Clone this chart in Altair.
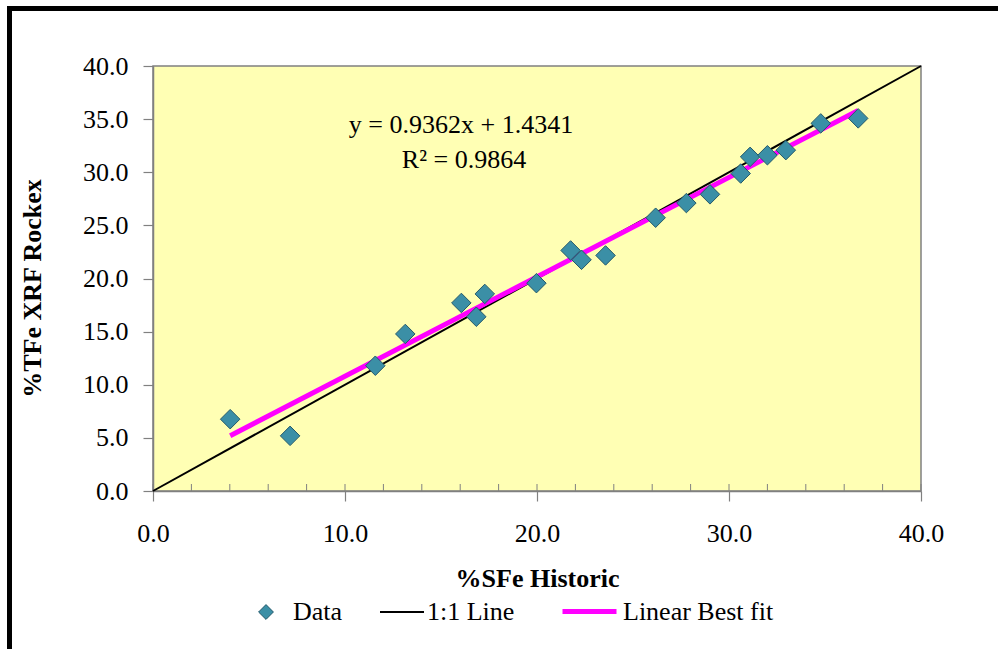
import altair as alt
import pandas as pd

# ---- data ----
sfe_historic = [4.02, 7.14, 11.58, 13.14, 16.06, 16.84, 17.28, 19.97, 21.75, 22.32,
                23.57, 26.18, 27.78, 29.01, 30.61, 31.10, 32.00, 32.96, 34.78, 36.73]
tfe_rockex = [6.76, 5.19, 11.79, 14.78, 17.70, 16.40, 18.55, 19.56, 22.64, 21.76,
              22.17, 25.72, 27.10, 27.92, 29.88, 31.45, 31.60, 32.08, 34.60, 35.07]
one_to_one_x = [0.0, 40.0]
one_to_one_y = [0.0, 40.0]
fit_x = [4.02, 36.73]
fit_y = [5.20, 35.82]
series_names = ["Data", "1:1 Line", "Linear Best fit"]
x_ticks = [0, 10, 20, 30, 40]
y_ticks = [0, 5, 10, 15, 20, 25, 30, 35, 40]
x_inner_ticks = list(range(0, 41, 2))
equation_text = "y = 0.9362x + 1.4341"
r2_text = "R\u00b2 = 0.9864"

FONT = "Liberation Serif"
W, H = 768, 425

pts = pd.DataFrame({"x": sfe_historic, "y": tfe_rockex, "s": series_names[0]})
one = pd.DataFrame({"x": one_to_one_x, "y": one_to_one_y, "s": series_names[1]})
fit = pd.DataFrame({"x": fit_x, "y": fit_y, "s": series_names[2]})
inner = pd.DataFrame({"x": x_inner_ticks})
single = pd.DataFrame({"a": [0]})

xscale = alt.Scale(domain=[0, 40], nice=False, zero=False)
yscale = alt.Scale(domain=[0, 40], nice=False, zero=False)

x_axis = alt.Axis(values=x_ticks, format=".1f", title="%SFe Historic", grid=False,
                  tickSize=10, labelPadding=19, labelFlush=False,
                  titleY=87, titleBaseline="middle")
y_axis = alt.Axis(values=y_ticks, format=".1f", title="%TFe XRF Rockex", grid=False,
                  tickSize=10, labelPadding=15, titleX=-121, titleY=222,
                  titleBaseline="middle", titleAlign="center", titleAngle=-90)

leg_common = dict(title=None, orient="none", direction="horizontal",
                  labelFont=FONT, labelFontSize=26, labelColor="black")

data_leg = alt.Legend(legendX=100, legendY=533, symbolType="diamond", symbolSize=220,
                      symbolFillColor="#3B8FA6", symbolStrokeColor="#24596A",
                      symbolStrokeWidth=1, labelOffset=14, **leg_common)
one_leg = alt.Legend(legendX=226, legendY=523, symbolType="stroke", symbolSize=1936,
                     symbolStrokeWidth=2, labelOffset=2, **leg_common)
fit_leg = alt.Legend(legendX=407, legendY=516, symbolType="stroke", symbolSize=2916,
                     symbolStrokeWidth=5, labelOffset=4, **leg_common)

line_one = alt.Chart(one).mark_line(strokeWidth=2).encode(
    x=alt.X("x:Q", scale=xscale, axis=x_axis),
    y=alt.Y("y:Q", scale=yscale, axis=y_axis),
    stroke=alt.Stroke("s:N", scale=alt.Scale(domain=[series_names[1]], range=["#000000"]),
                      legend=one_leg),
)
line_fit = alt.Chart(fit).mark_line(strokeWidth=5).encode(
    x="x:Q", y="y:Q",
    stroke=alt.Stroke("s:N", scale=alt.Scale(domain=[series_names[2]], range=["#FF00FF"]),
                      legend=fit_leg),
)
points = alt.Chart(pts).mark_point(filled=True, opacity=1, size=380, stroke="#24596A",
                                    strokeWidth=1, shape="diamond").encode(
    x="x:Q", y="y:Q",
    fill=alt.Fill("s:N", scale=alt.Scale(domain=[series_names[0]], range=["#3B8FA6"]),
                  legend=data_leg),
)
inner_ticks = alt.Chart(inner).mark_rule(color="#808080", strokeWidth=1).encode(
    x="x:Q", y=alt.value(H), y2=alt.value(H - 7)
)
eq = alt.Chart(single).mark_text(font=FONT, fontSize=26, color="black",
                                 baseline="alphabetic", align="center").encode(
    x=alt.value(308), y=alt.value(67), text=alt.value(equation_text)
)
r2 = alt.Chart(single).mark_text(font=FONT, fontSize=26, color="black",
                                 baseline="alphabetic", align="center").encode(
    x=alt.value(311), y=alt.value(102), text=alt.value(r2_text)
)
frame = alt.Chart(single).mark_rect(fill=None, stroke="black", strokeWidth=5).encode(
    x=alt.value(9.5 - 153), y=alt.value(8.5 - 66), x2=alt.value(2000), y2=alt.value(2000)
)

chart = alt.layer(inner_ticks, line_one, line_fit, points, eq, r2, frame).resolve_scale(
    stroke="independent"
).resolve_legend(
    stroke="independent"
).properties(
    width=W, height=H,
    autosize=alt.AutoSizeParams(type="none"),
    padding={"left": 153, "top": 66, "right": 998 - 153 - W, "bottom": 649 - 66 - H},
    background="white",
).configure_view(
    fill="#FFFFB4", stroke="#808080", strokeWidth=1.5
).configure_axis(
    labelFont=FONT, labelFontSize=26, labelColor="black",
    titleFont=FONT, titleFontSize=26, titleFontWeight="bold", titleColor="black",
    domainColor="#808080", tickColor="#808080", domainWidth=1.5, tickWidth=1.2,
)

chart.save("out.html", embed_options={"renderer": "svg", "actions": False})
